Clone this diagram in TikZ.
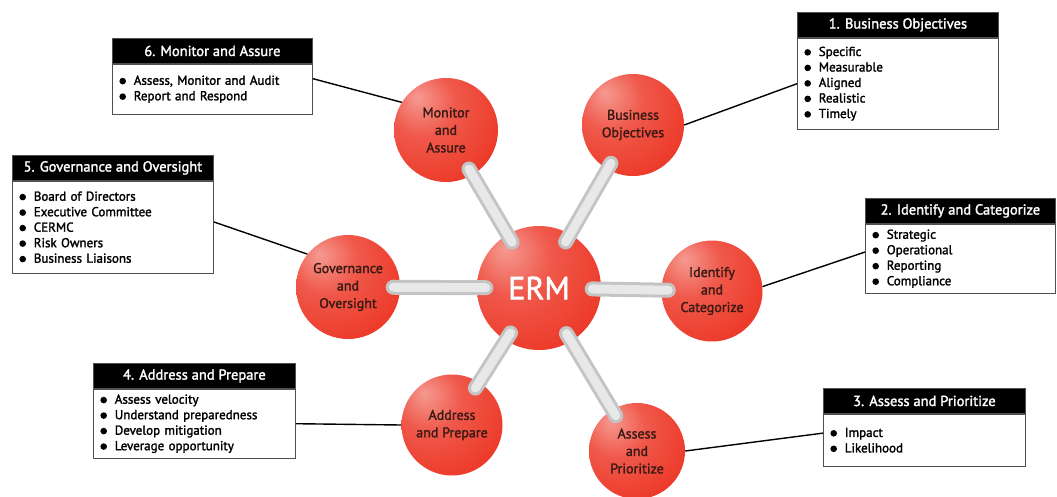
\documentclass[tikz,border=0pt]{standalone}
\usepackage{fontspec}
\setmainfont{PT Sans}[UprightFeatures={FakeBold=1.8}]
\usetikzlibrary{positioning}

\definecolor{ballred}{HTML}{EC3423}
\definecolor{ballink}{HTML}{3A1A14}
\definecolor{rodedge}{HTML}{C4C4C4}
\definecolor{rodlight}{HTML}{E8E8E8}
\definecolor{boxline}{HTML}{505050}

\pgfdeclareradialshading{redball}{\pgfpoint{-14bp}{16bp}}{%
  color(0bp)=(ballred!50!white);
  color(16bp)=(ballred!82!white);
  color(40bp)=(ballred);
  color(62bp)=(ballred!90!black);
  color(80bp)=(ballred!90!black)}

% round list marker
\newcommand{\blt}{\raisebox{0.05ex}{\tikz\fill (0,0) circle (3.3pt);}\hspace{0.6em}}

\tikzset{
  ball/.style={circle, shading=redball, minimum size=#1, inner sep=0pt,
    text=ballink, align=center, font=\fontsize{14}{17.5}\selectfont},
  rod/.style={line cap=round, draw=rodedge, line width=3pt, double=rodlight,
    double distance=9pt, shorten <=-9pt, shorten >=-7pt},
  head/.style={draw=boxline, fill=black, text=white, line width=0.8pt,
    minimum width=#1, minimum height=25pt, inner sep=0pt, anchor=north west,
    font=\fontsize{14.5}{16}\selectfont},
  list/.style={draw=boxline, fill=white, line width=0.8pt, inner xsep=7pt,
    inner ysep=0pt, align=left, font=\fontsize{13}{15.5}\selectfont},
  link/.style={line width=1.4pt},
}

\begin{document}
\begin{tikzpicture}[x=1pt, y=-1pt]
  \useasboundingbox (0,0) rectangle (1057,496);

  % spheres
  \node[ball=124, text=white, font=\fontsize{32}{32}\selectfont] (erm) at (539,288) {ERM};
  \node[ball=102] (obj) at (633,125) {Business\\Objectives};
  \node[ball=101] (idc) at (712,291) {Identify\\and\\Categorize};
  \node[ball=96]  (apr) at (637,451) {Assess\\and\\Prioritize};
  \node[ball=101] (adp) at (452,425) {Address\\and Prepare};
  \node[ball=104] (gov) at (348,287) {Governance\\and\\Oversight};
  \node[ball=104] (mon) at (446,130) {Monitor\\and\\Assure};

  % rods out of the hub
  \foreach \s in {obj, idc, apr, adp, gov, mon}
    \draw[rod] (erm) -- (\s);

  % boxes
  \node[head=201] (objh) at (797,12) {1. Business Objectives};
  \node[list, text width=187, minimum height=91, below=0pt of objh] (objl)
    {\blt Specific\\ \blt Measurable\\ \blt Aligned\\ \blt Realistic\\ \blt Timely};

  \node[head=190] (idch) at (865,198) {2. Identify and Categorize};
  \node[list, text width=176, minimum height=69, below=0pt of idch] (idcl)
    {\blt Strategic\\ \blt Operational\\ \blt Reporting\\ \blt Compliance};

  \node[head=202] (aprh) at (823,388) {3. Assess and Prioritize};
  \node[list, text width=188, minimum height=52, below=0pt of aprh] (aprl)
    {\blt Impact\\ \blt Likelihood};

  \node[head=202] (adph) at (93,363) {4. Address and Prepare};
  \node[list, text width=188, minimum height=69, below=0pt of adph] (adpl)
    {\blt Assess velocity\\ \blt Understand preparedness\\ \blt Develop mitigation\\ \blt Leverage opportunity};

  \node[head=201] (govh) at (12,155) {5. Governance and Oversight};
  \node[list, text width=187, minimum height=92, below=0pt of govh] (govl)
    {\blt Board of Directors\\ \blt Executive Committee\\ \blt CERMC\\ \blt Risk Owners\\ \blt Business Liaisons};

  \node[head=200] (monh) at (112,38) {6. Monitor and Assure};
  \node[list, text width=186, minimum height=50, below=0pt of monh] (monl)
    {\blt Assess, Monitor and Audit\\ \blt Report and Respond};

  % leader lines
  \draw[link] (obj.east) -- (objl.west);
  \draw[link] (idc.5) -- (idcl.176);
  \draw[link] (apr.east) -- (aprl.176);
  \draw[link] (adp.west) -- (adpl.east);
  \draw[link] (gov.141) -- (govl.3);
  \draw[link] (mon.148) -- (monl.6);
\end{tikzpicture}
\end{document}
